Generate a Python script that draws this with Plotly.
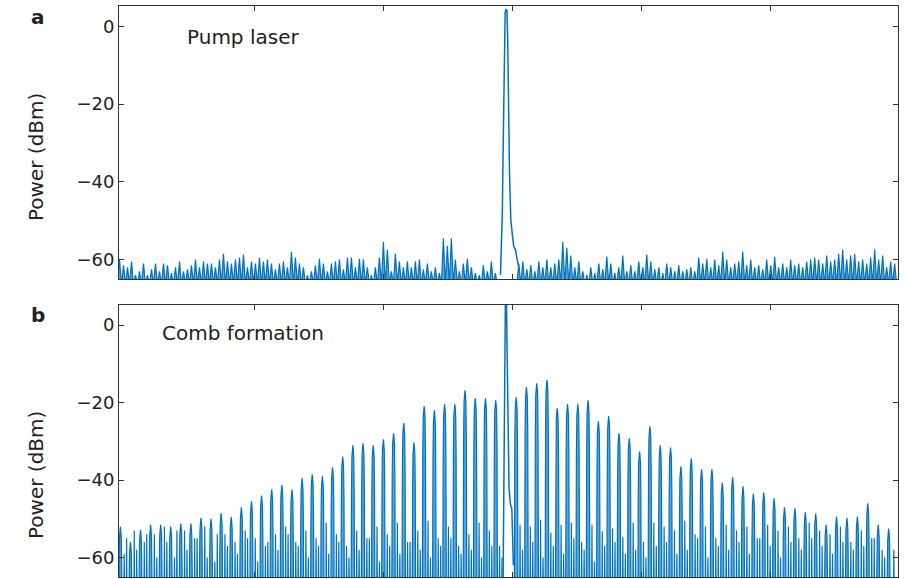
import numpy as np
import plotly.graph_objects as go

# ---------------- data ----------------
C_NM_THZ = 299792.458          # speed of light, nm*THz
X_RANGE = [1529.73, 1559.93]   # wavelength (nm)
X_TICKS = [1535, 1540, 1545, 1550, 1555]
Y_RANGE = [-65, 5.2]
Y_TICKS = [0, -20, -40, -60]

PUMP_WL = 1544.73              # nm
FSR_THZ = 0.0499               # comb line spacing

# panel a : pump laser
pump_a_offset = [-0.21, -0.14, -0.10, -0.07, -0.03, 0.0, 0.04, 0.07, 0.10, 0.14, 0.19, 0.24, 0.30, 0.37, 0.43, 0.48]
pump_a_level = [-64, -48, -28, -8, 3.5, 4.4, 4.0, -4, -22, -38, -50, -54, -56.5, -57.5, -60, -61.5]

NOISE_STEP = 0.155  # nm between noise samples
noise_a_left_start = 1529.75
noise_a_left = [
    -60, -61.5, -62, -60.5, -64, -63, -61, -64, -62.5, -61,
    -63, -61, -61.5, -63.5, -62, -60.5, -63, -62.5, -61.5, -60,
    -62, -60.5, -61, -61, -62, -60, -58.5, -60.5, -61, -60,
    -59.5, -58.7, -62, -60.5, -61, -59.5, -60.5, -60, -61, -62.5,
    -61, -60.5, -62, -58, -59.5, -61, -62, -64, -63, -61.5,
    -59.8, -61, -63, -61, -60.5, -60, -62.5, -59.5, -59.5, -62,
    -59.8, -60, -62, -64, -62, -59.5, -55.5, -57.5, -63, -58.5,
    -60.5, -62, -60.5, -62, -60.5, -60, -62.5, -61, -63, -62,
    -63.5, -54.5, -56.5, -54.5, -60, -63, -61, -59.8, -62, -63.5,
    -64, -61.5, -63, -60.5, -63.5,
]
noise_a_right_start = 1545.23
noise_a_right = [
    -61, -60.5, -62.5, -61.5, -63, -60.5, -62, -60, -62, -61,
    -60, -55.5, -57, -59, -62, -60.5, -63, -64, -62, -63.5,
    -61, -62.5, -59.2, -61, -63.5, -62, -59, -63, -61.5, -63,
    -60.5, -62, -58.7, -60.5, -62.5, -62, -63.5, -61, -62, -63,
    -61.5, -63, -62.5, -62, -63, -59.5, -61, -59.8, -62, -60,
    -61.5, -58, -60, -62, -61, -60.5, -58, -61.5, -60, -62,
    -61.5, -62.5, -60, -61.5, -59.3, -62, -61, -62, -60, -61.5,
    -61, -62, -60.5, -60, -59.5, -60, -61, -59, -60.5, -60,
    -58.5, -57.5, -60, -59, -58.5, -60.5, -60, -61, -59.5, -57.4,
    -60, -59, -62, -60.5, -61,
]

# panel b : comb formation  (mode numbers relative to the pump)
comb_n = list(range(-38, 38))
comb_peak = [
    -52, -56, -52.8, -51.5, -51.5, -52, -51.2, -51.2, -49.7, -50,
    -48.5, -49.5, -47, -45.5, -44, -42.4, -41.3, -42.4, -39.5, -38.5,
    -39, -36.7, -33.9, -31, -30.5, -31, -29.5, -27.9, -25.3, -30.3,
    -20.9, -22, -20.4, -20.4, -16.8, -18.9, -18.9, -19.4,
    6.5,
    -18.6, -16, -15, -14.2, -21.5, -20.4, -20.4, -19.4, -24.8, -23.5,
    -27.9, -29.2, -32.6, -26.1, -31, -31.6, -36.5, -34.4, -37.2, -37.2,
    -40.6, -39.3, -41.6, -43.5, -43.2, -44.7, -47, -47.3, -48.3, -48.6,
    -51.5, -49.4, -49.7, -49.4, -46, -51.5, -52.5,
]
# noise spikes: left edge, between consecutive lines, right edge (None = no spike)
gap_b = [
    -59,
    -59, -53, -56, -54, -52, -60, -53, -55, -52, -61, -54, -56,
    -53, -55, -57, -54, -52, -56, -53, -55, -51, -54, -57, -53, -55,
    -52, -54, -51, -56, -53, -50.5, -55, -52, -57, -54, -51, -53,
    -57, None,
    -51.5, -52, -50.2, -53.5, -51.5, -51, -56, -51.5, -53.2, -52.5, -54.6, -51, -56,
    -51, -52, -53, -50.5, -54, -52, -55, -51.5, -53, -52, -55, -51.5,
    -53, -52, -55, -51, -53, -54, -52, -56, -53, -55,
    -58,
]
# second, weaker noise spike between consecutive lines
gap_b2 = [
    -55, -58, -54, -60, -56, -53, -58, -55, -60, -54, -57, -59, -55, -61, -56, -58, -54, -57, -60,
    -57, -59, -56, -60, -58, -55, -61, -57, -59, -56, -58, -60, -57, -55, -59, -58, -60, -57,
    -60, None,
    -58, -56, -60, -57, -59, -55, -58, -61, -57, -56, -59, -58, -60, -57, -56, -59, -58, -55,
    -60, -57, -58, -56, -59, -55, -57, -60, -56, -58, -55, -57, -59, -56, -58, -57, -55, -60,
]

# instrument line shape (offset in nm, drop in dB)
line_offset = [-0.068, -0.052, -0.036, -0.016, 0.0, 0.016, 0.036, 0.052, 0.068]
line_drop = [45, 12, 3, 0.8, 0, 1.0, 3, 12, 45]
pump_b_offset = [-0.11, -0.08, -0.05, -0.02, 0.02, 0.05, 0.08, 0.12, 0.17, 0.23, 0.29]
pump_b_level = [-66, -40, -5, 6.5, 6.5, -8, -30, -42, -46, -47.5, -62]

FLOOR = -66.5
LINE_COLOR = "#0072BD"
FILL_COLOR = "rgba(25,130,205,0.72)"

# ---------------- build traces ----------------
def spikes(start, values, step):
    xs, ys = [start - step / 2], [FLOOR]
    for i, v in enumerate(values):
        x0 = start + i * step
        xs += [x0, x0 + step / 2]
        ys += [v, FLOOR]
    return xs, ys

ax_l, ay_l = spikes(noise_a_left_start, noise_a_left, NOISE_STEP)
ax_r, ay_r = spikes(noise_a_right_start, noise_a_right, NOISE_STEP)
a_noise_x, a_noise_y = ax_l + ax_r, ay_l + ay_r
a_pump_x = [PUMP_WL + o for o in pump_a_offset]
a_pump_y = pump_a_level

f_pump = C_NM_THZ / PUMP_WL
wl = [C_NM_THZ / (f_pump - n * FSR_THZ) for n in comb_n]

b_x, b_y = [], []
def add_spike(xc, v):
    if v is None:
        return
    b_x.extend([xc - 0.01, xc, xc + 0.01])
    b_y.extend([FLOOR, v, FLOOR])

b_pump_x, b_pump_y = [], []
add_spike(wl[0] - (wl[1] - wl[0]) / 2, gap_b[0])
for k, n in enumerate(comb_n):
    if n == 0:
        b_pump_x = [wl[k] + o for o in pump_b_offset]
        b_pump_y = pump_b_level
    else:
        xs_line = [wl[k] + o for o in line_offset]
        b_x.extend([xs_line[0]] + xs_line + [xs_line[-1]])
        b_y.extend([FLOOR] + [comb_peak[k] - d for d in line_drop] + [FLOOR])
    if k < len(comb_n) - 1:
        sp = wl[k + 1] - wl[k]
        add_spike(wl[k] + 0.38 * sp, gap_b[k + 1])
        add_spike(wl[k] + 0.62 * sp, gap_b2[k])
add_spike(wl[-1] + (wl[-1] - wl[-2]) / 2, gap_b[-1])

# ---------------- figure ----------------
W, H = 906, 579
fig = go.Figure()
base = [X_RANGE[0] - 1, X_RANGE[1] + 1]
for xs, ys, px_, py_, xa, ya in [(a_noise_x, a_noise_y, a_pump_x, a_pump_y, "x", "y"),
                                  (b_x, b_y, b_pump_x, b_pump_y, "x2", "y2")]:
    fig.add_trace(go.Scatter(x=base, y=[-70, -70], mode="lines", xaxis=xa, yaxis=ya,
                             line=dict(width=0, color="rgba(0,0,0,0)"),
                             showlegend=False, hoverinfo="skip"))
    fig.add_trace(go.Scatter(x=xs, y=ys, mode="lines", xaxis=xa, yaxis=ya,
                             fill="tonexty", fillcolor=FILL_COLOR,
                             line=dict(color=LINE_COLOR, width=1.2), showlegend=False,
                             hoverinfo="skip"))
    fig.add_trace(go.Scatter(x=px_, y=py_, mode="lines", xaxis=xa, yaxis=ya,
                             line=dict(color=LINE_COLOR, width=1.5), showlegend=False,
                             hoverinfo="skip"))

FONT = "DejaVu Sans"
AX_COLOR = "#333333"
xcommon = dict(range=X_RANGE, tickvals=X_TICKS, showticklabels=False, ticks="inside",
               ticklen=5, tickcolor=AX_COLOR, showline=True, linecolor=AX_COLOR,
               linewidth=1, mirror="ticks", showgrid=False, zeroline=False)
ycommon = dict(range=Y_RANGE, tickvals=Y_TICKS, ticks="inside", ticklen=5,
               tickcolor=AX_COLOR, showline=True, linecolor=AX_COLOR, linewidth=1,
               mirror="ticks", showgrid=False, zeroline=False,
               tickfont=dict(family=FONT, size=18, color="#222222"))

fig.update_layout(
    width=W, height=H,
    margin=dict(l=119, r=8, t=6, b=2, autoexpand=False),
    paper_bgcolor="white", plot_bgcolor="white",
    xaxis=dict(domain=[0, 1], anchor="y", **xcommon),
    yaxis=dict(domain=[0.5219, 1.0], anchor="x", **ycommon),
    xaxis2=dict(domain=[0, 1], anchor="y2", **xcommon),
    yaxis2=dict(domain=[0.0, 0.4764], anchor="x2", **ycommon),
)

def annot(text, x, y, size, bold=False, angle=0, xanchor="center"):
    fig.add_annotation(text=("<b>%s</b>" % text) if bold else text,
                       xref="paper", yref="paper", x=x, y=y, xanchor=xanchor,
                       yanchor="middle", showarrow=False, textangle=angle,
                       font=dict(family=FONT, size=size, color="#222222"))

plot_w = W - 119 - 8
plot_h = H - 6 - 2
def px(xp):  # pixel -> paper x
    return (xp - 119) / plot_w
def py(yp):  # pixel -> paper y
    return (H - 2 - yp) / plot_h

annot("a", px(38), py(17), 20, bold=True)
annot("b", px(38), py(315), 20, bold=True)
annot("Pump laser", px(185), py(37), 20, xanchor="left")
annot("Comb formation", px(160), py(333), 20, xanchor="left")
annot("Power (dBm)", px(36), py(157), 20, angle=-90)
annot("Power (dBm)", px(36), py(475), 20, angle=-90)

fig.write_html("out.html")
